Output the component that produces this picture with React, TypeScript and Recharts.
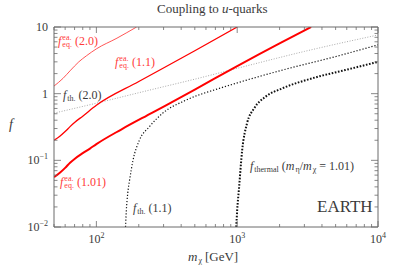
import React from "react";
import { LineChart, Line, XAxis, YAxis } from "recharts";

// f_eq^ea. curves (red)
const massEq20 = [50, 58, 65, 75, 85, 100, 140, 193];
const fEq20 = [1.3, 1.7, 2.2, 3.0, 3.7, 4.7, 6.8, 10];
const massEq11 = [50, 55, 60, 65, 70, 80, 100, 200, 500, 1000];
const fEq11 = [0.2, 0.23, 0.27, 0.32, 0.37, 0.46, 0.67, 1.52, 4.4, 10];
const massEq101 = [50, 55, 60, 65, 70, 80, 90, 100, 150, 250, 500, 1000, 2000, 3350];
const fEq101 = [0.056, 0.065, 0.077, 0.092, 0.105, 0.128, 0.15, 0.175, 0.29, 0.52, 1.15, 2.6, 5.7, 10];

// f_th. curves (dotted)
const massTh20 = [50, 100, 238, 500, 1000, 3000, 10000];
const fTh20 = [0.51, 0.72, 1.13, 1.65, 2.4, 4.3, 7.6];
const massTh11 = [161, 163, 167, 172, 182, 202, 238, 296, 433, 746, 1000, 2000, 5000, 10000];
const fTh11 = [0.01, 0.017, 0.032, 0.05, 0.1, 0.2, 0.32, 0.51, 0.8, 1.2, 1.45, 2.2, 3.6, 5.4];
const massThermal = [985, 1000, 1028, 1085, 1175, 1318, 1590, 2090, 3410, 5850, 10000];
const fThermal = [0.01, 0.018, 0.036, 0.143, 0.36, 0.6, 0.9, 1.2, 1.7, 2.26, 3.0];

const xMajor = [100, 1000, 10000];
const xMajorExp = ["2", "3", "4"];
const xMinor = [50, 60, 70, 80, 90, 200, 300, 400, 500, 600, 700, 800, 900, 2000, 3000, 4000, 5000, 6000, 7000, 8000, 9000];
const yMajor = [0.01, 0.1, 1, 10];
const yMajorLabel = [["10", "\u22122"], ["10", "\u22121"], ["1", ""], ["10", ""]];
const yMinor = [0.02, 0.03, 0.04, 0.05, 0.06, 0.07, 0.08, 0.09, 0.2, 0.3, 0.4, 0.5, 0.6, 0.7, 0.8, 0.9, 2, 3, 4, 5, 6, 7, 8, 9];

const toData = (m: number[], f: number[]) => m.map((v, i) => ({ m: v, f: f[i] }));

const serif = "'Liberation Serif', 'DejaVu Serif', serif";
const axisColor = "#6b6b6b";
const textColor = "#3a3a3a";
const red = "#ff3a3a";

const xTicks = [...xMinor, ...xMajor].sort((a, b) => a - b);
const yTicks = [...yMinor, ...yMajor].sort((a, b) => a - b);

const XTick = (props: any) => {
  const { x, y, payload, top } = props;
  const v = payload.value;
  const mi = xMajor.indexOf(v);
  const len = mi >= 0 ? 6 : 3;
  const dir = top ? 1 : -1;
  return (
    <g>
      <line x1={x} x2={x} y1={y} y2={y + dir * len} stroke={axisColor} strokeWidth={0.8} />
      {!top && mi >= 0 && (
        <text x={x} y={y + 16} textAnchor="middle" fontFamily={serif} fontSize={12} fill={textColor}>
          10<tspan dy={-5} fontSize={8}>{xMajorExp[mi]}</tspan>
        </text>
      )}
    </g>
  );
};

const YTick = (props: any) => {
  const { x, y, payload, right } = props;
  const v = payload.value;
  const mi = yMajor.indexOf(v);
  const len = mi >= 0 ? 7 : 3.5;
  const dir = right ? -1 : 1;
  return (
    <g>
      <line x1={x} x2={x + dir * len} y1={y} y2={y} stroke={axisColor} strokeWidth={0.8} />
      {!right && mi >= 0 && (
        <text x={x - 6} y={y + 4} textAnchor="end" fontFamily={serif} fontSize={12} fill={textColor}>
          {yMajorLabel[mi][0]}
          {yMajorLabel[mi][1] && <tspan dy={-5} fontSize={8}>{yMajorLabel[mi][1]}</tspan>}
        </text>
      )}
    </g>
  );
};

const stack = (a: string, b: string) => (
  <span style={{ display: "inline-flex", flexDirection: "column", fontSize: 8, lineHeight: "7.5px", margin: "0 3px 0 1px" }}>
    <span>{a}</span>
    <span>{b}</span>
  </span>
);

const sub = (s: string, right = 3) => (
  <span style={{ fontSize: 8, margin: `6px ${right}px 0 1px` }}>{s}</span>
);

const Label = ({ left, top, color, children, size = 12 }: any) => (
  <div
    style={{
      position: "absolute",
      left,
      top,
      height: 14,
      display: "flex",
      alignItems: "center",
      whiteSpace: "nowrap",
      fontFamily: serif,
      fontSize: size,
      color,
    }}
  >
    {children}
  </div>
);

export default function App() {
  return (
    <div style={{ position: "absolute", left: 0, top: 0, width: 408, height: 268, background: "#fff" }}>
      <LineChart width={408} height={268} margin={{ top: 26, right: 29, bottom: 11, left: 10 }}>
        <XAxis
          xAxisId="b"
          dataKey="m"
          type="number"
          scale="log"
          domain={[50, 10000]}
          allowDataOverflow
          ticks={xTicks}
          interval={0}
          height={30}
          tickSize={0}
          tickMargin={0}
          tickLine={false}
          axisLine={{ stroke: axisColor }}
          tick={(p: any) => <XTick {...p} />}
        />
        <XAxis
          xAxisId="t"
          orientation="top"
          dataKey="m"
          type="number"
          scale="log"
          domain={[50, 10000]}
          allowDataOverflow
          ticks={xTicks}
          interval={0}
          height={1}
          tickSize={0}
          tickMargin={0}
          tickLine={false}
          axisLine={{ stroke: axisColor }}
          tick={(p: any) => <XTick {...p} top />}
        />
        <YAxis
          yAxisId="l"
          dataKey="f"
          type="number"
          scale="log"
          domain={[0.01, 10]}
          allowDataOverflow
          ticks={yTicks}
          interval={0}
          width={44}
          tickSize={0}
          tickMargin={0}
          tickLine={false}
          axisLine={{ stroke: axisColor }}
          tick={(p: any) => <YTick {...p} />}
        />
        <YAxis
          yAxisId="r"
          orientation="right"
          dataKey="f"
          type="number"
          scale="log"
          domain={[0.01, 10]}
          allowDataOverflow
          ticks={yTicks}
          interval={0}
          width={1}
          tickSize={0}
          tickMargin={0}
          tickLine={false}
          axisLine={{ stroke: axisColor }}
          tick={(p: any) => <YTick {...p} right />}
        />
        <Line xAxisId="b" yAxisId="l" data={toData(massTh20, fTh20)} dataKey="f" type="monotone" stroke="#a0a0a0" strokeWidth={0.9} strokeDasharray="1 1.6" dot={false} isAnimationActive={false} />
        <Line xAxisId="b" yAxisId="l" data={toData(massTh11, fTh11)} dataKey="f" type="monotone" stroke="#111" strokeWidth={1.2} strokeDasharray="1.2 1.9" dot={false} isAnimationActive={false} />
        <Line xAxisId="b" yAxisId="l" data={toData(massThermal, fThermal)} dataKey="f" type="monotone" stroke="#111" strokeWidth={2} strokeDasharray="1.6 1.6" dot={false} isAnimationActive={false} />
        <Line xAxisId="b" yAxisId="l" data={toData(massEq20, fEq20)} dataKey="f" type="monotone" stroke="#ff2a2a" strokeWidth={0.8} dot={false} isAnimationActive={false} />
        <Line xAxisId="b" yAxisId="l" data={toData(massEq11, fEq11)} dataKey="f" type="monotone" stroke="#ff0000" strokeWidth={1.3} dot={false} isAnimationActive={false} />
        <Line xAxisId="b" yAxisId="l" data={toData(massEq101, fEq101)} dataKey="f" type="monotone" stroke="#ff0000" strokeWidth={2} dot={false} isAnimationActive={false} />
      </LineChart>

      <Label left={157} top={2} color={textColor} size={13}>
        Coupling to&nbsp;<i>u</i>-quarks
      </Label>
      <Label left={188} top={250} color={textColor} size={13}>
        <i>m</i>
        {sub("χ")}[GeV]
      </Label>
      <Label left={9} top={118} color={textColor} size={14}>
        <i>f</i>
      </Label>

      <Label left={58} top={34} color={red}>
        <i>f</i>
        {stack("ea.", "eq.")}(2.0)
      </Label>
      <Label left={115} top={55} color={red}>
        <i>f</i>
        {stack("ea.", "eq.")}(1.1)
      </Label>
      <Label left={60} top={175} color={red}>
        <i>f</i>
        {stack("ea.", "eq.")}(1.01)
      </Label>
      <Label left={63} top={88} color={textColor}>
        <i>f</i>
        {sub("th.")}(2.0)
      </Label>
      <Label left={133} top={201} color={textColor}>
        <i>f</i>
        {sub("th.")}(1.1)
      </Label>
      <Label left={250} top={159} color={textColor}>
        <i>f</i>
        {sub("thermal")}(<i>m</i>
        {sub("η", 0)}/<i>m</i>
        {sub("χ", 0)}&nbsp;=&nbsp;1.01)
      </Label>
      <Label left={317} top={200} color={textColor} size={17}>
        EARTH
      </Label>
    </div>
  );
}
